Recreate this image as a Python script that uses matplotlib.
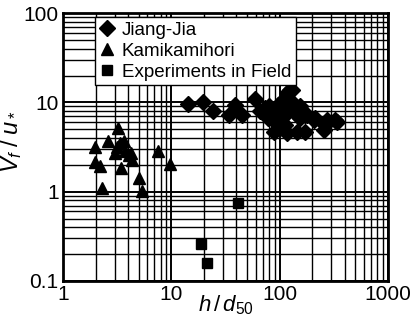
import matplotlib
matplotlib.use('Agg')
import matplotlib.pyplot as plt
import numpy as np

# Jiang-Jia (diamonds)
jj_x = [14.3, 19.6, 24.2, 33.8, 39, 44.9, 59.6, 73, 85, 78, 90, 101, 112, 107,
        125, 130, 117, 139, 154, 112, 97, 172, 212, 262, 325, 88, 117, 144,
        172, 255, 338, 271, 206, 178, 144, 134, 155, 66, 80, 95, 108]
jj_y = [9.7, 10.0, 8.1, 7.3, 9.4, 7.3, 11.0, 8.7, 7.8, 6.7, 6.05, 5.2, 5.6, 10.7,
        13.8, 13.9, 12.7, 8.3, 6.7, 7.3, 9.4, 7.2, 6.7, 5.6, 6.3, 4.7, 4.5, 4.7,
        4.7, 4.9, 6.1, 6.3, 6.3, 7.3, 7.3, 9.8, 9.0, 8.0, 9.2, 6.5, 8.2]

# Kamikamihori (triangles)
kk_x = [1.99, 1.96, 2.18, 2.31, 2.6, 3.2, 3.15, 3.04, 3.38, 3.68, 3.43, 3.76,
        4.04, 4.33, 4.27, 4.99, 5.36, 7.48, 9.65]
kk_y = [3.2, 2.15, 1.95, 1.1, 3.66, 5.2, 3.2, 2.7, 3.5, 3.66, 1.84, 2.83,
        2.6, 2.28, 2.7, 1.42, 1.01, 2.83, 2.06]

# Experiments in Field (squares)
ef_x = [41.2, 18.7, 21.3]
ef_y = [0.75, 0.26, 0.16]

plt.rcParams['font.family'] = ['Liberation Sans', 'DejaVu Sans']
plt.rcParams['mathtext.fontset'] = 'custom'
plt.rcParams['mathtext.it'] = 'Liberation Sans:italic'
plt.rcParams['mathtext.rm'] = 'Liberation Sans'

fig = plt.figure(figsize=(4.11, 3.2), dpi=100)
ax = fig.add_axes([0.153, 0.122, 0.791, 0.837])

ax.set_xscale('log')
ax.set_yscale('log')
ax.set_xlim(1, 1000)
ax.set_ylim(0.1, 100)

ax.grid(True, which='major', color='black', linewidth=1.4)
ax.grid(True, which='minor', color='black', linewidth=1.0)
ax.set_axisbelow(True)

ax.plot(jj_x, jj_y, 'D', color='black', markersize=8, label='Jiang-Jia', zorder=3)
ax.plot(kk_x, kk_y, '^', color='black', markersize=9, label='Kamikamihori', zorder=3)
ax.plot(ef_x, ef_y, 's', color='black', markersize=7, label='Experiments in Field', zorder=3)

for s in ax.spines.values():
    s.set_linewidth(2)

ax.tick_params(which='both', length=0, labelsize=15, pad=3)
ax.set_xticks([1, 10, 100, 1000])
ax.set_xticklabels(['1', '10', '100', '1000'])
ax.set_yticks([0.1, 1, 10, 100])
ax.set_yticklabels(['0.1', '1', '10', '100'])

ax.set_xlabel(r'$h\,/\,d_{50}$', fontsize=16, labelpad=-8)
ax.set_ylabel(r'$V_f\;/\;u_*$', fontsize=17)
ax.yaxis.set_label_coords(-0.12, 0.52)

leg = ax.legend(loc='upper left', bbox_to_anchor=(0.098, 0.985), borderaxespad=0,
                fancybox=False, edgecolor='black', framealpha=1, fontsize=13.5,
                handlelength=0.8, handletextpad=0.4, borderpad=0.25,
                labelspacing=0.2, markerscale=1.0)
leg.get_frame().set_linewidth(1)

plt.savefig('out.png', dpi=100)
plt.close()
